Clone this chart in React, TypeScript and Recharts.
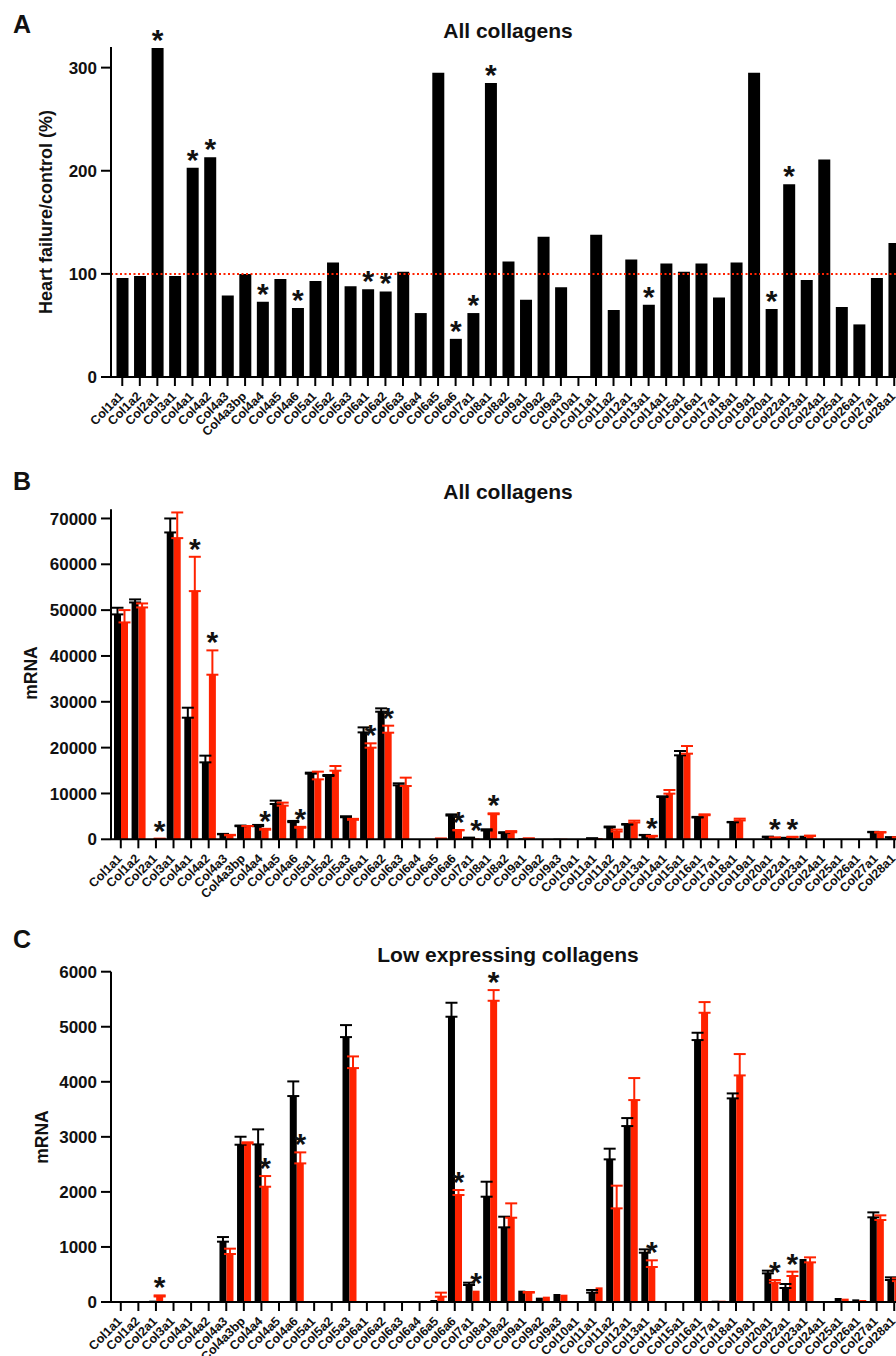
import { BarChart, Bar, XAxis, YAxis, ErrorBar, LabelList, ReferenceLine } from 'recharts';

const genes = [
  'Col1a1', 'Col1a2', 'Col2a1', 'Col3a1', 'Col4a1', 'Col4a2', 'Col4a3', 'Col4a3bp', 'Col4a4',
  'Col4a5', 'Col4a6', 'Col5a1', 'Col5a2', 'Col5a3', 'Col6a1', 'Col6a2', 'Col6a3', 'Col6a4',
  'Col6a5', 'Col6a6', 'Col7a1', 'Col8a1', 'Col8a2', 'Col9a1', 'Col9a2', 'Col9a3', 'Col10a1',
  'Col11a1', 'Col11a2', 'Col12a1', 'Col13a1', 'Col14a1', 'Col15a1', 'Col16a1', 'Col17a1',
  'Col18a1', 'Col19a1', 'Col20a1', 'Col22a1', 'Col23a1', 'Col24a1', 'Col25a1', 'Col26a1',
  'Col27a1', 'Col28a1',
];

// heart failure / control, %
const hfPercent = [
  96, 98, 319, 98, 203, 213, 79, 100, 73, 95, 67, 93, 111, 88, 85, 83, 102, 62, 295, 37, 62,
  285, 112, 75, 136, 87, 0, 138, 65, 114, 70, 110, 102, 110, 77, 111, 295, 66, 187, 94, 211,
  68, 51, 96, 130,
];

const controlMrna = [
  49070, 51680, 25, 66950, 26530, 16790, 1096, 2857, 2863, 7700, 3741, 14320, 13810, 4812,
  23330, 27840, 11780, 0, 36, 5182, 309, 1913, 1356, 206, 79, 145, 0, 170, 2591, 3196, 896,
  9230, 18320, 4758, 24, 3699, 0, 521, 254, 781, 5, 73, 48, 1538, 400,
];
const controlSem = [
  1450, 660, 0, 3050, 2180, 1460, 84, 145, 273, 730, 266, 220, 220, 218, 1090, 730, 430, 0, 0,
  254, 42, 272, 194, 0, 0, 0, 0, 48, 194, 145, 60, 150, 940, 133, 0, 90, 0, 48, 73, 0, 0, 0, 0,
  90, 48,
];
const hfMrna = [
  47320, 50590, 100, 65710, 54150, 35910, 872, 2881, 2094, 7340, 2518, 13080, 14970, 4249,
  19990, 23260, 11630, 10, 97, 1943, 206, 5472, 1531, 170, 97, 133, 0, 266, 1701, 3668, 636,
  9960, 18680, 5254, 24, 4116, 0, 351, 472, 720, 0, 61, 36, 1489, 380,
];
const hfSem = [
  2690, 870, 20, 5600, 7490, 5310, 97, 20, 194, 660, 200, 1680, 1020, 212, 950, 1530, 1820, 0,
  73, 91, 0, 194, 261, 12, 0, 0, 0, 0, 412, 400, 121, 800, 1670, 194, 0, 388, 0, 49, 79, 91, 0,
  0, 0, 85, 50,
];

const significant = [
  'Col2a1', 'Col4a1', 'Col4a2', 'Col4a4', 'Col4a6', 'Col6a1', 'Col6a2', 'Col6a6', 'Col7a1',
  'Col8a1', 'Col13a1', 'Col20a1', 'Col22a1',
];

// left out of panel C
const highExpressing = [
  'Col1a1', 'Col1a2', 'Col3a1', 'Col4a1', 'Col4a2', 'Col4a5', 'Col5a1', 'Col5a2', 'Col6a1',
  'Col6a2', 'Col6a3', 'Col14a1', 'Col15a1',
];

const ratioTicks = [0, 100, 200, 300];
const allTicks = [0, 10000, 20000, 30000, 40000, 50000, 60000, 70000];
const lowTicks = [0, 1000, 2000, 3000, 4000, 5000, 6000];

const RED = '#ff2200';
const FONT = 'Arial, "Liberation Sans", Helvetica, sans-serif';

const ratioData = genes.map((g, i) => ({
  gene: g,
  ratio: hfPercent[i],
  star: significant.includes(g) ? 0 : null,
}));

const mrnaRows = (skipHigh: boolean) =>
  genes.map((g, i) => {
    const hide = skipHigh && highExpressing.includes(g);
    return {
      gene: g,
      ctrl: hide ? null : controlMrna[i],
      ctrlErr: hide || !controlSem[i] ? null : [0, controlSem[i]],
      hf: hide ? null : hfMrna[i],
      hfErr: hide || !hfSem[i] ? null : [0, hfSem[i]],
      star: !hide && significant.includes(g) ? hfSem[i] / hfMrna[i] : null,
    };
  });

const allData = mrnaRows(false);
const lowData = mrnaRows(true);

const GeneTick = ({ x, y, payload }: any) => {
  const ax = x + 2;
  const ay = y + 9;
  return (
    <text
      x={ax}
      y={ay}
      transform={`rotate(-45 ${ax} ${ay})`}
      textAnchor="end"
      fontSize={12.5}
      fontWeight="bold"
      fontFamily={FONT}
      fill="#111"
    >
      {payload.value}
    </text>
  );
};

// asterisk above the bar (and its error bar); value = error / mean
const renderStar = (props: any) => {
  const { value } = props;
  if (value == null) return null;
  const vb = props.viewBox || props;
  const cx = vb.x + vb.width / 2;
  const top = vb.y - vb.height * value;
  return (
    <text x={cx} y={top + 2} textAnchor="middle" fontSize={30} fontWeight="bold" fontFamily={FONT} fill="#111">
      *
    </text>
  );
};

const axisStroke = { stroke: '#000', strokeWidth: 2 };
const yTick = { fill: '#111', fontSize: 17, fontWeight: 'bold', fontFamily: FONT };

function RatioChart() {
  return (
    <BarChart width={903} height={470} data={ratioData} margin={{ top: 47, right: 0, bottom: 0, left: 0 }} barSize={12}>
      <XAxis
        dataKey="gene"
        interval={0}
        height={93}
        tick={<GeneTick />}
        tickSize={9}
        tickLine={axisStroke}
        axisLine={axisStroke}
        padding={{ left: 2.5, right: 0 }}
      />
      <YAxis
        width={111}
        domain={[0, 320]}
        ticks={ratioTicks}
        tickSize={10}
        tickMargin={4}
        tickLine={axisStroke}
        axisLine={axisStroke}
        tick={yTick}
      />
      <Bar dataKey="ratio" fill="#000" isAnimationActive={false}>
        <LabelList dataKey="star" content={renderStar} />
      </Bar>
      <ReferenceLine y={100} stroke={RED} strokeWidth={2} strokeDasharray="2 2.5" />
    </BarChart>
  );
}

interface MrnaChartProps {
  data: any[];
  max: number;
  ticks: number[];
  height: number;
  top: number;
  axisHeight: number;
}

function MrnaChart({ data, max, ticks, height, top, axisHeight }: MrnaChartProps) {
  return (
    <BarChart
      width={903}
      height={height}
      data={data}
      margin={{ top, right: 0, bottom: 0, left: 0 }}
      barSize={7}
      barGap={0}
    >
      <XAxis
        dataKey="gene"
        interval={0}
        height={axisHeight}
        tick={<GeneTick />}
        tickSize={9}
        tickLine={axisStroke}
        axisLine={axisStroke}
        padding={{ left: 1, right: 0 }}
      />
      <YAxis
        width={111}
        domain={[0, max]}
        ticks={ticks}
        tickSize={10}
        tickMargin={4}
        tickLine={axisStroke}
        axisLine={axisStroke}
        tick={yTick}
      />
      <Bar dataKey="ctrl" fill="#000" isAnimationActive={false}>
        <ErrorBar dataKey="ctrlErr" direction="y" width={6} stroke="#000" strokeWidth={2} />
      </Bar>
      <Bar dataKey="hf" fill={RED} isAnimationActive={false}>
        <ErrorBar dataKey="hfErr" direction="y" width={6} stroke={RED} strokeWidth={2} />
        <LabelList dataKey="star" content={renderStar} />
      </Bar>
    </BarChart>
  );
}

export default function App() {
  return (
    <div
      style={{
        position: 'absolute',
        left: 0,
        top: 0,
        width: 896,
        height: 1356,
        overflow: 'hidden',
        background: '#fff',
      }}
    >
      <div style={{ position: 'absolute', left: 0, top: 0 }}>
        <RatioChart />
      </div>
      <div style={{ position: 'absolute', left: 0, top: 440 }}>
        <MrnaChart data={allData} max={72000} ticks={allTicks} height={490} top={69.3} axisHeight={90.7} />
      </div>
      <div style={{ position: 'absolute', left: 0, top: 900 }}>
        <MrnaChart data={lowData} max={6000} ticks={lowTicks} height={456} top={71.7} axisHeight={54} />
      </div>
      <svg
        width={896}
        height={1356}
        style={{ position: 'absolute', left: 0, top: 0, pointerEvents: 'none' }}
        fontFamily={FONT}
        fontWeight="bold"
        fill="#111"
      >
        <text x={13} y={33} fontSize={25}>A</text>
        <text x={13} y={490} fontSize={25}>B</text>
        <text x={13} y={948} fontSize={25}>C</text>

        <text x={508} y={37.5} fontSize={21} textAnchor="middle">All collagens</text>
        <text x={508} y={499.3} fontSize={21} textAnchor="middle">All collagens</text>
        <text x={508} y={961.7} fontSize={21} textAnchor="middle">Low expressing collagens</text>

        <text transform="translate(51.5 212) rotate(-90)" fontSize={18} textAnchor="middle">
          Heart failure/control (%)
        </text>
        <text transform="translate(37 673) rotate(-90)" fontSize={17.5} textAnchor="middle">
          mRNA
        </text>
        <text transform="translate(48 1137) rotate(-90)" fontSize={17.5} textAnchor="middle">
          mRNA
        </text>
      </svg>
    </div>
  );
}
